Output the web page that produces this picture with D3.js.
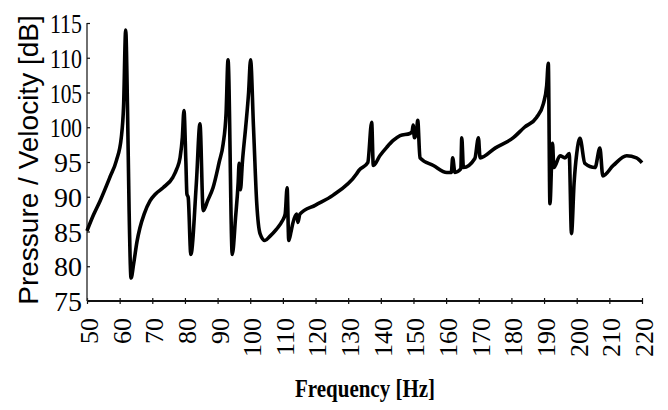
<!DOCTYPE html>
<html>
<head>
<meta charset="utf-8">
<script src="https://cdn.jsdelivr.net/npm/d3@7"></script>
<style>
  body { margin: 0; background: #fff; }
  svg { display: block; }
</style>
</head>
<body>
<svg id="chart" width="668" height="410"></svg>
<script>
// Frequency response.
const freq = [50, 52, 54, 57, 59, 60.5, 61.2, 61.85, 62.4, 62.9, 63.5, 64.3, 65.3, 66.2, 67.5, 69.3, 71,
  73.3, 76.3, 77.5, 78.5, 79.2, 79.7, 80.3, 80.6, 81, 81.8, 83.5, 84.6, 85.6, 87, 88.6, 90.5, 91.7,
  92.6, 93.2, 94.5, 95.5, 96.3, 96.6, 97, 97.6, 98.6, 99.5, 100.1, 101, 102, 103, 104.5, 106, 108,
  109.8, 110.7, 111.3, 111.8, 112.5, 113, 114.2, 114.6, 115.2, 120, 125.3, 132.6, 133.3, 136, 137.2, 137.7,
  139.7, 141.8, 143.8, 145.9, 148.9, 149.6, 149.9, 150.3, 150.9, 151.3, 152, 156.1, 160.2, 161.6, 162,
  162.7, 164.5, 164.8, 165.3, 168.8, 169.9, 170.4, 175, 180.6, 184, 187.7, 189.8, 190.8, 191.3, 191.8,
  192.6, 193, 194.9, 196.4, 197.7, 198.4, 199.2, 200, 201, 202.5, 205.6, 207.1, 208, 211.2, 215.3,
  218.3, 220];
const level = [85.1, 87.4, 89.4, 92.8, 95.2, 98.5, 103, 114, 103, 88, 78.3, 80.4, 83.5, 85.5, 87.5, 89.4, 90.4,
  91.3, 92.8, 94, 95.6, 98.5, 102.4, 94.8, 90.4, 89.9, 81.7, 92, 100.5, 88, 89.5, 91.3, 95, 97.6,
  102, 109.7, 81.7, 87, 92, 94.8, 91, 95, 100, 105, 109.7, 100, 89, 84.7, 83.7, 84.3, 85.3,
  86.5, 87.5, 91.3, 83.7, 85, 86.1, 87.5, 86.3, 87.5, 88.8, 90.2, 93.3, 93.8, 94.9, 100.7, 94.5,
  95.9, 97.1, 98.1, 98.8, 99.1, 99.4, 100.3, 98.5, 99.2, 101, 95.6, 94.5, 93.5, 93.5, 95.6,
  93.5, 94, 98.5, 94.2, 95.5, 98.5, 95.6, 97, 98.5, 100, 101.4, 103.4, 106, 109.2, 89,
  97.7, 94.2, 95.9, 95.6, 96.2, 84.7, 92, 96.2, 98.4, 94.8, 94.2, 97, 93, 94.5, 95.9,
  95.6, 94.9];

const xTicks = d3.range(50, 221, 10);
const yTicks = d3.range(75, 116, 5);

const svg = d3.select("#chart");

const x = d3.scaleLinear().domain([50, 220]).range([87, 642]);
const y = d3.scaleLinear().domain([75, 115]).range([301, 23]);

// axes
const xAxis = svg.append("g")
  .attr("transform", `translate(0,${y(75)})`)
  .call(d3.axisBottom(x).tickValues(xTicks).tickSize(3).tickFormat(""));
xAxis.select(".domain").attr("stroke", "#111").attr("stroke-width", 1.8).attr("d", `M${x(50)},0H${x(220)}`);
xAxis.selectAll(".tick line").attr("y1", -3).attr("stroke", "#111").attr("stroke-width", 1.2);

const yAxis = svg.append("g")
  .attr("transform", `translate(${x(50)},0)`)
  .call(d3.axisLeft(y).tickValues(yTicks).tickSize(3).tickFormat(""));
yAxis.select(".domain").attr("stroke", "#333").attr("stroke-width", 1.4).attr("d", `M0,${y(115)}V${y(75)}`);
yAxis.selectAll(".tick line").attr("x2", 3).attr("stroke", "#111").attr("stroke-width", 1.2);

// tick labels (serif, condensed like the scan)
svg.append("g").selectAll("text")
  .data(yTicks)
  .join("text")
  .attr("x", 82)
  .attr("y", d => y(d))
  .attr("dy", "0.36em")
  .attr("text-anchor", "end")
  .attr("font-family", "Liberation Serif, serif")
  .attr("font-size", 28)
  .attr("textLength", d => String(d).length === 3 ? 32 : 28)
  .attr("lengthAdjust", "spacingAndGlyphs")
  .text(d => d);

svg.append("g").selectAll("text")
  .data(xTicks)
  .join("text")
  .attr("transform", d => `translate(${x(d)},318) rotate(-90)`)
  .attr("dy", "0.42em")
  .attr("text-anchor", "end")
  .attr("font-family", "Liberation Serif, serif")
  .attr("font-size", 26)
  .text(d => d);

// titles
svg.append("text")
  .attr("transform", "translate(38,160) rotate(-90)")
  .attr("text-anchor", "middle")
  .attr("font-family", "Liberation Sans, Arial, sans-serif")
  .attr("font-size", 28)
  .text("Pressure / Velocity [dB]");

svg.append("text")
  .attr("x", 365)
  .attr("y", 397)
  .attr("text-anchor", "middle")
  .attr("font-family", "Liberation Serif, serif")
  .attr("font-weight", "bold")
  .attr("font-size", 25)
  .attr("textLength", 140)
  .attr("lengthAdjust", "spacingAndGlyphs")
  .text("Frequency [Hz]");

// response curve
const pts = freq.map((f, i) => [f, level[i]]);
const line = d3.line()
  .x(d => x(d[0]))
  .y(d => y(d[1]))
  .curve(d3.curveMonotoneX);

svg.append("path")
  .datum(pts)
  .attr("fill", "none")
  .attr("stroke", "#000")
  .attr("stroke-width", 3.6)
  .attr("stroke-linejoin", "round")
  .attr("d", line);
</script>
</body>
</html>
